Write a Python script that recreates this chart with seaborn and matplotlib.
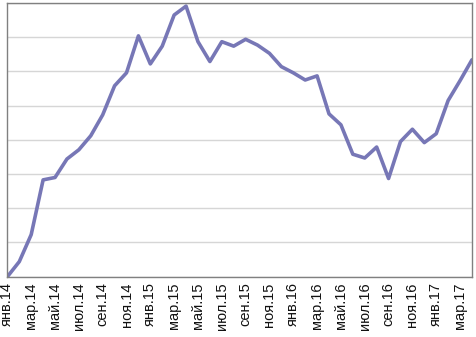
import matplotlib
matplotlib.use("Agg")
import matplotlib.pyplot as plt
import seaborn as sns
import pandas as pd

# monthly series, Jan 2014 .. Apr 2017
month_names = ['янв', 'фев', 'мар', 'апр', 'май', 'июн',
               'июл', 'авг', 'сен', 'окт', 'ноя', 'дек']
years = ['14', '15', '16', '17']
n_months = 40
month_labels = ["%s.%s" % (month_names[i % 12], years[i // 12]) for i in range(n_months)]

values = [0.00, 0.44, 1.23, 2.83, 2.90, 3.44, 3.71, 4.12, 4.73, 5.58,
          5.96, 7.04, 6.22, 6.74, 7.65, 7.91, 6.87, 6.29, 6.87, 6.74,
          6.94, 6.77, 6.53, 6.14, 5.96, 5.75, 5.87, 4.76, 4.44, 3.58,
          3.47, 3.79, 2.87, 3.95, 4.31, 3.92, 4.18, 5.15, 5.73, 6.34]

df = pd.DataFrame({'month': range(n_months), 'value': values})

sns.set_style("white")
plt.rcParams['font.family'] = ['Liberation Sans', 'DejaVu Sans']

fig = plt.figure(figsize=(4.76, 3.37), dpi=100)
ax = fig.add_axes([0.0155, 0.179, 0.976, 0.812])
sns.lineplot(data=df, x='month', y='value', color='#7777b6', linewidth=2.6, ax=ax)

ax.set_xlim(0, n_months - 1)
ax.set_ylim(0, 8)
ax.set_yticks(range(0, 9))
ax.set_yticklabels([])
ax.grid(axis='y', color='#d6d6d6', linewidth=1)
ax.set_axisbelow(True)

ticks = list(range(0, n_months, 2))
ax.set_xticks(ticks)
ax.set_xticklabels([month_labels[i] for i in ticks], rotation=90, fontsize=10.5, color='#111111')
ax.tick_params(axis='both', length=0, pad=4)
ax.set_xlabel('')
ax.set_ylabel('')

for s in ax.spines.values():
    s.set_color('#808080')
    s.set_linewidth(1)

fig.savefig('out.png', dpi=100)
